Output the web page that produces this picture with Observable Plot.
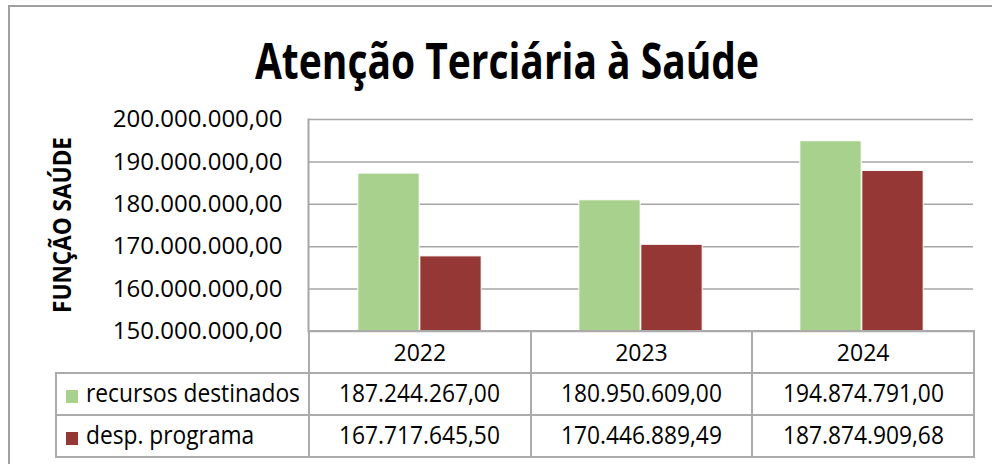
<!DOCTYPE html>
<html>
<head>
<meta charset="utf-8">
<script src="https://cdn.jsdelivr.net/npm/d3@7"></script>
<script src="https://cdn.jsdelivr.net/npm/@observablehq/plot@0.6"></script>
<style>
  html, body { margin: 0; padding: 0; background: #fff; }
  #wrap { position: relative; width: 992px; height: 464px; overflow: hidden; background: #fff; font-family: "Open Sans", sans-serif; color: #000; }
  #outer { position: absolute; left: 8px; top: 5px; width: 1200px; height: 800px; border-left: 2px solid #a0a0a0; border-top: 2px solid #a0a0a0; }
  #title { position: absolute; top: 35px; font-size: 50px; font-weight: 700; line-height: 50px; white-space: nowrap; transform-origin: 0 50%; }
  #ylab { position: absolute; left: 61px; top: 225px; font-size: 25px; font-weight: 700; line-height: 25px; white-space: nowrap; }
  #chart { position: absolute; left: 0; top: 0; }
  #tbl { position: absolute; left: 55px; top: 330px; border-collapse: collapse; table-layout: fixed; }
  #tbl td { border: 2px solid #ababab; padding: 0; text-align: center; vertical-align: middle; line-height: 25px; overflow: visible; }
  #tbl td.blank { border-top: none; border-left: none; }
  #tbl td.yr { font-size: 23px; }
  #tbl td.num span, #tbl td.leg span.t { display: inline-block; font-size: 25px; transform: scaleX(0.91); white-space: nowrap; }
  #tbl td.num span { transform-origin: 50% 50%; }
  #tbl td.leg { text-align: left; white-space: nowrap; }
  #tbl td.leg span.t { transform-origin: 0 50%; }
  #tbl td.leg span.sw { display: inline-block; width: 12px; height: 13px; margin-left: 9px; margin-right: 8px; vertical-align: -1px; }
</style>
</head>
<body>
<div id="wrap">
  <div id="outer"></div>
  <div id="title"></div>
  <div id="ylab"></div>
  <div id="chart"></div>
  <table id="tbl"></table>
</div>
<script>
// ---- data ----
const years = ["2022", "2023", "2024"];
const recursos = [187244267.00, 180950609.00, 194874791.00];
const despesa = [167717645.50, 170446889.49, 187874909.68];
const seriesNames = ["recursos destinados", "desp. programa"];
const seriesColors = ["#a9d18e", "#953735"];
const yTicks = [150000000, 160000000, 170000000, 180000000, 190000000, 200000000];
const titleText = "Atenção Terciária à Saúde";
const yLabelText = "FUNÇÃO SAÚDE";

// ---- formatting ----
const loc = d3.formatLocale({decimal: ",", thousands: ".", grouping: [3], currency: ["R$", ""]});
const fmt = loc.format(",.2f");

const rows = years.map((y, i) => ({year: y, recursos: recursos[i], despesa: despesa[i]}));

// ---- layout ----
const W = 992, H = 372, mL = 308, mR = 19, mT = 119, mB = 41;
const bw = (W - mL - mR) / years.length;
const barW = 62;
const grid = "#a6a6a6";

const chart = Plot.plot({
  width: W, height: H,
  marginTop: mT, marginBottom: mB, marginLeft: mL, marginRight: mR,
  style: {fontFamily: "'Open Sans', sans-serif", fontSize: "24px", color: "#000", background: "transparent", overflow: "visible"},
  x: {domain: years, padding: 0, axis: null},
  y: {domain: [yTicks[0], yTicks[yTicks.length - 1]], axis: null},
  marks: [
    Plot.gridY(yTicks, {stroke: grid, strokeOpacity: 1, strokeWidth: 1.5}),
    Plot.axisY(yTicks, {tickSize: 0, tickPadding: 26, tickFormat: fmt, fontSize: 24, fill: "#000"}),
    Plot.barY(rows, {x: "year", y: "recursos", fill: seriesColors[0], stroke: "#fff", strokeWidth: 1,
      insetLeft: bw / 2 - barW, insetRight: bw / 2, clip: true}),
    Plot.barY(rows, {x: "year", y: "despesa", fill: seriesColors[1], stroke: "#fff", strokeWidth: 1,
      insetLeft: bw / 2, insetRight: bw / 2 - barW, clip: true}),
    Plot.frame({anchor: "left", stroke: grid, strokeWidth: 2})
  ]
});
document.getElementById("chart").appendChild(chart);

// ---- title ----
const title = document.getElementById("title");
title.textContent = titleText;
{
  const w = title.getBoundingClientRect().width;
  const target = 504, cx = 507;
  const s = target / w;
  title.style.left = (cx - target / 2) + "px";
  title.style.transform = `scaleX(${s})`;
}

// ---- y label ----
const ylab = document.getElementById("ylab");
const ys = document.createElement("span");
ys.style.position = "absolute";
ys.style.left = "0"; ys.style.top = "0";
ys.textContent = yLabelText;
ylab.appendChild(ys);
{
  const w = ys.getBoundingClientRect().width;
  const s = 176 / w;
  ys.style.transform = `translate(-50%, -50%) rotate(-90deg) scaleX(${s})`;
}

// ---- data table ----
const tbl = document.getElementById("tbl");
const legW = mL - 55;
const colW = [legW, bw, bw, bw];
tbl.style.width = (legW + 3 * bw) + "px";
const cg = document.createElement("colgroup");
colW.forEach(w => { const c = document.createElement("col"); c.style.width = w + "px"; cg.appendChild(c); });
tbl.appendChild(cg);
const hr = tbl.insertRow();
hr.style.height = "42px";
const b = hr.insertCell(); b.className = "blank";
years.forEach(y => { const c = hr.insertCell(); c.className = "yr"; c.textContent = y; });
[recursos, despesa].forEach((vals, k) => {
  const r = tbl.insertRow();
  r.style.height = "42px";
  const lc = r.insertCell(); lc.className = "leg";
  const sw = document.createElement("span"); sw.className = "sw"; sw.style.background = seriesColors[k];
  const t = document.createElement("span"); t.className = "t"; t.textContent = seriesNames[k];
  lc.appendChild(sw); lc.appendChild(t);
  vals.forEach(v => {
    const c = r.insertCell(); c.className = "num";
    const s = document.createElement("span"); s.textContent = fmt(v);
    c.appendChild(s);
  });
});
</script>
</body>
</html>
